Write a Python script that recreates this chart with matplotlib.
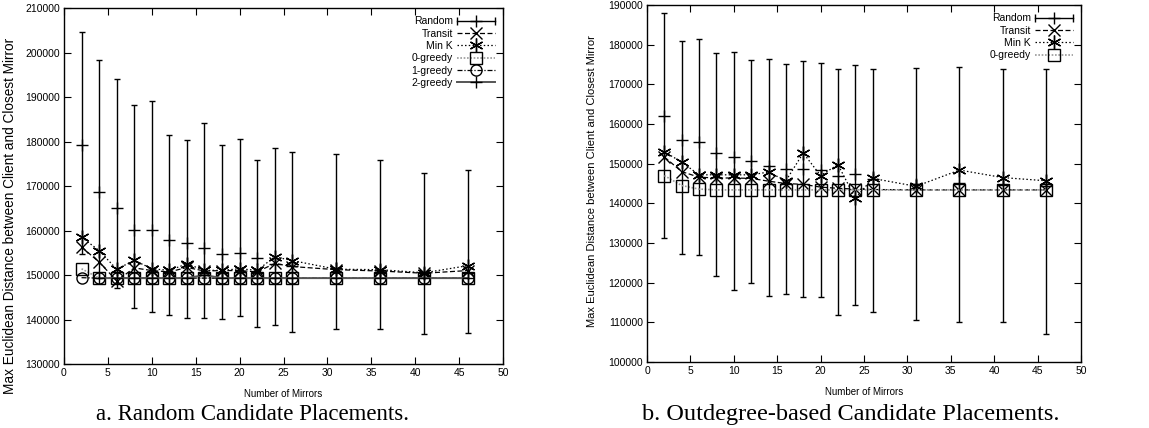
import matplotlib
matplotlib.use("Agg")
import matplotlib.pyplot as plt
from matplotlib.lines import Line2D
from matplotlib.legend_handler import HandlerBase

# ---------------- data ----------------
mirrors = [2, 4, 6, 8, 10, 12, 14, 16, 18, 20, 22, 24, 26, 31, 36, 41, 46]

# panel a: random candidate placements
a_random_mean = [179300, 168650, 165000, 160200, 160200, 157900, 157150, 156050, 154800,
                 155000, 153900, 152500, 152000, 151500, 151200, 150500, 150500]
a_random_top = [204500, 198300, 194000, 188150, 189150, 181500, 180450, 184250, 179300,
                180500, 175900, 178500, 177600, 177100, 175900, 172900, 173500]
a_random_bottom = [154800, 149300, 147000, 142600, 141700, 141100, 140300, 140450, 140100,
                   140900, 138400, 138700, 137300, 137900, 137900, 136800, 136900]
a_transit = [156300, 152900, 148700, 151600, 151000, 150700, 151700, 150900, 151000,
             151000, 150700, 152600, 151900, 151200, 150900, 150400, 151000]
a_mink = [158500, 155500, 151300, 153300, 151400, 151050, 152500, 151050, 151050,
          151400, 151050, 154100, 153250, 151300, 151200, 150500, 152100]
a_greedy0 = [151400, 149300, 149300, 149300, 149300, 149300, 149300, 149300, 149300,
             149300, 149300, 149300, 149300, 149300, 149300, 149300, 149300]
a_greedy1 = [149400, 149300, 149300, 149300, 149300, 149300, 149300, 149300, 149300,
             149300, 149300, 149300, 149300, 149300, 149300, 149300, 149300]
a_greedy2_x = [4, 6, 8, 10, 12, 14, 16, 18, 20, 22, 24, 26, 31, 36, 41, 46]
a_greedy2 = [149300, 149300, 149300, 149300, 149300, 149300, 150000, 149300, 149300,
             149300, 149300, 149300, 149300, 149300, 149300, 149300]

# panel b: outdegree-based candidate placements
b_random_mean = [162000, 156100, 155500, 152700, 151800, 150700, 149300, 148700, 148700,
                 148500, 146900, 147400, 146200, 145000, 145200, 144600, 144300]
b_random_top = [188100, 180900, 181400, 177800, 178200, 176100, 176400, 175100, 175900,
                175300, 173800, 174900, 173900, 174000, 174400, 173800, 173900]
b_random_bottom = [131400, 127200, 127050, 121750, 118150, 119900, 116700, 117100, 116300,
                   116300, 111850, 114450, 112500, 110650, 110150, 110000, 107050]
b_transit = [151700, 148000, 146600, 146400, 146400, 146300, 145600, 145000, 144800,
             144100, 143800, 143600, 143500, 143400, 143400, 143400, 143400]
b_mink = [153000, 150400, 147200, 147200, 147200, 147200, 147900, 145700, 152700,
          147000, 149800, 141300, 146300, 144300, 148400, 146500, 145700]
b_greedy0 = [147000, 144500, 143600, 143400, 143400, 143400, 143400, 143400, 143400,
             143400, 143400, 143400, 143400, 143400, 143400, 143400, 143400]

a_yticks = list(range(130000, 210001, 10000))
b_yticks = list(range(100000, 190001, 10000))
xticks = list(range(0, 51, 5))

xlabel = "Number of Mirrors"
ylabel = "Max Euclidean Distance between Client and Closest Mirror"
caption_a = "a. Random Candidate Placements."
caption_b = "b. Outdegree-based Candidate Placements."

# ---------------- drawing ----------------
plt.rcParams['font.family'] = ['Liberation Sans', 'DejaVu Sans']

fig = plt.figure(figsize=(11.49, 4.28), dpi=100)
ax_a = fig.add_axes([0.0557, 0.1495, 0.3821, 0.8318])
ax_b = fig.add_axes([0.5631, 0.1540, 0.3777, 0.8343])

ms = 9
tick_fs = 7.5


class HandlerErrBar(HandlerBase):
    def create_artists(self, legend, orig_handle, xdescent, ydescent, width, height,
                       fontsize, trans):
        y = height / 2.0 - ydescent
        x0 = -xdescent
        x1 = x0 + width
        line = Line2D([x0, x1], [y, y], color='black', lw=1.0)
        caps = Line2D([x0, x1], [y, y], linestyle='none', marker='|', markersize=6,
                      color='black', markeredgewidth=1.0)
        mark = Line2D([(x0 + x1) / 2.0], [y], linestyle='none', marker='+',
                      markersize=ms, color='black', markeredgewidth=1.0)
        for art in (line, caps, mark):
            art.set_transform(trans)
        return [line, caps, mark]


def draw_random(ax, mean, top, bottom):
    lower = [m - b for m, b in zip(mean, bottom)]
    upper = [t - m for m, t in zip(mean, top)]
    ax.errorbar(mirrors, mean, yerr=[lower, upper], fmt='+', color='black',
                ecolor='black', elinewidth=1.0, capsize=2.5, capthick=1.0,
                markersize=ms, markeredgewidth=1.0)
    return Line2D([], [], color='black', label='Random')


def style_axes(ax, yticks, ylab_fs, ylab_coords):
    ax.set_xlim(0, 50)
    ax.set_ylim(yticks[0], yticks[-1])
    ax.set_xticks(xticks)
    ax.set_yticks(yticks)
    ax.tick_params(direction='in', top=True, right=True, length=5, width=0.8,
                   labelsize=tick_fs, pad=3)
    ax.set_xlabel(xlabel, fontsize=7, labelpad=8)
    ax.set_ylabel(ylabel, fontsize=ylab_fs)
    ax.yaxis.set_label_coords(*ylab_coords)
    for sp in ax.spines.values():
        sp.set_linewidth(1.0)


def add_legend(ax, handles):
    hm = {handles[0]: HandlerErrBar()}
    ax.legend(handles=handles, handler_map=hm, loc='upper right', frameon=False,
              markerfirst=False, fontsize=7.5, handlelength=3.6, handletextpad=0.4,
              labelspacing=0.22, borderaxespad=0.5, borderpad=0.3, numpoints=1)


# panel a
h_rand_a = draw_random(ax_a, a_random_mean, a_random_top, a_random_bottom)
h_tr_a, = ax_a.plot(mirrors, a_transit, linestyle=(0, (4, 2)), color='black', lw=0.9,
                    marker='x', markersize=ms, markeredgewidth=1.0, label='Transit')
h_mk_a, = ax_a.plot(mirrors, a_mink, linestyle=(0, (1.2, 1.8)), color='black', lw=0.9,
                    marker=(6, 2, 0), markersize=ms + 1, markeredgewidth=1.0, label='Min K')
h_g0_a, = ax_a.plot(mirrors, a_greedy0, linestyle=(0, (1, 1)), color='#999999', lw=1.2,
                    marker='s', markersize=ms - 1, markerfacecolor='none',
                    markeredgecolor='black', markeredgewidth=1.0, label='0-greedy')
h_g1_a, = ax_a.plot(mirrors, a_greedy1, linestyle=(0, (4, 1.5, 1, 1.5)), color='black',
                    lw=0.9, marker='o', markersize=ms - 1, markerfacecolor='none',
                    markeredgecolor='black', markeredgewidth=1.0, label='1-greedy')
h_g2_a, = ax_a.plot(a_greedy2_x, a_greedy2, linestyle='-', color='#555555', lw=1.4,
                    marker='+', markersize=ms, markeredgecolor='black',
                    markeredgewidth=1.0, label='2-greedy')
style_axes(ax_a, a_yticks, 9.8, (-0.108, 0.416))
add_legend(ax_a, [h_rand_a, h_tr_a, h_mk_a, h_g0_a, h_g1_a, h_g2_a])

# panel b
h_rand_b = draw_random(ax_b, b_random_mean, b_random_top, b_random_bottom)
h_tr_b, = ax_b.plot(mirrors, b_transit, linestyle=(0, (4, 2)), color='black', lw=0.9,
                    marker='x', markersize=ms, markeredgewidth=1.0, label='Transit')
h_mk_b, = ax_b.plot(mirrors, b_mink, linestyle=(0, (1.2, 1.8)), color='black', lw=0.9,
                    marker=(6, 2, 0), markersize=ms + 1, markeredgewidth=1.0, label='Min K')
h_g0_b, = ax_b.plot(mirrors, b_greedy0, linestyle=(0, (1, 1)), color='#999999', lw=1.2,
                    marker='s', markersize=ms - 1, markerfacecolor='none',
                    markeredgecolor='black', markeredgewidth=1.0, label='0-greedy')
style_axes(ax_b, b_yticks, 8.0, (-0.115, 0.507))
add_legend(ax_b, [h_rand_b, h_tr_b, h_mk_b, h_g0_b])

# captions
fig.text(252 / 1149, 0.006, caption_a, ha='center', va='bottom', fontsize=16.5,
         family=['Liberation Serif', 'DejaVu Serif'])
fig.text(851 / 1149, 0.006, caption_b, ha='center', va='bottom', fontsize=17.5,
         family=['Liberation Serif', 'DejaVu Serif'])

fig.savefig("out.png", dpi=100)
